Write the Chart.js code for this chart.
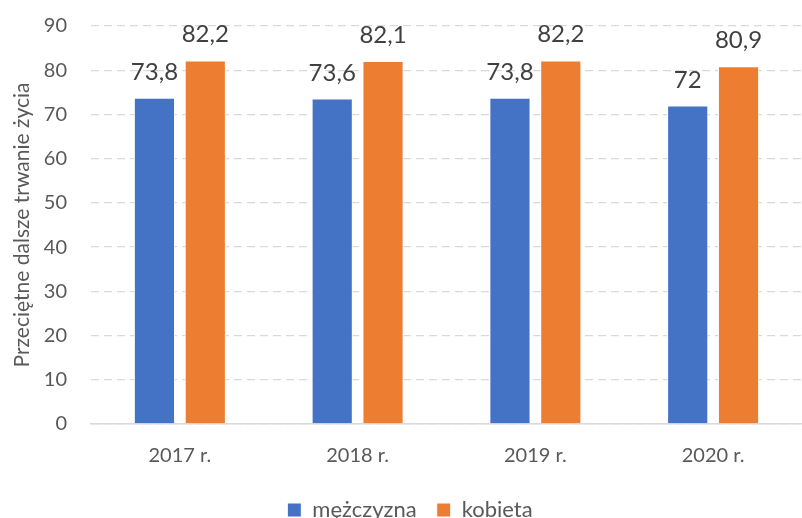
<!DOCTYPE html>
<html>
<head>
<meta charset="utf-8">
<script src="https://cdn.jsdelivr.net/npm/chart.js@4/dist/chart.umd.min.js"></script>
<style>
  html, body { margin: 0; padding: 0; background: #fff; overflow: hidden; }
  #wrap { width: 802px; height: 518px; position: relative; overflow: hidden; }
  #inner { position: absolute; left: 0; top: -10px; width: 802px; height: 541px; }
</style>
</head>
<body>
<div id="wrap"><div id="inner"><canvas id="chart"></canvas></div></div>
<script>
const years = ['2017 r.', '2018 r.', '2019 r.', '2020 r.'];
const men = [73.8, 73.6, 73.8, 72];
const women = [82.2, 82.1, 82.2, 80.9];
const yTicks = [0, 10, 20, 30, 40, 50, 60, 70, 80, 90];

const FONT = 'Lato, "Open Sans", sans-serif';

const valueLabels = {
  id: 'valueLabels',
  afterDatasetsDraw(chart) {
    const ctx = chart.ctx;
    ctx.save();
    ctx.font = '24px ' + FONT;
    ctx.fillStyle = '#404040';
    ctx.textAlign = 'center';
    ctx.textBaseline = 'alphabetic';
    chart.data.datasets.forEach((ds, i) => {
      const meta = chart.getDatasetMeta(i);
      meta.data.forEach((bar, j) => {
        const txt = String(ds.data[j]).replace('.', ',');
        ctx.fillText(txt, bar.x, bar.y - 18);
      });
    });
    ctx.restore();
  },
};

new Chart(document.getElementById('chart'), {
  type: 'bar',
  data: {
    labels: years,
    datasets: [
      {
        label: 'mężczyzna',
        data: men,
        backgroundColor: '#4472c4',
        borderColor: '#ffffff',
        borderWidth: 1,
        barPercentage: 0.81,
        categoryPercentage: 0.572,
      },
      {
        label: 'kobieta',
        data: women,
        backgroundColor: '#ed7d31',
        borderColor: '#ffffff',
        borderWidth: 1,
        barPercentage: 0.81,
        categoryPercentage: 0.572,
      },
    ],
  },
  options: {
    responsive: true,
    maintainAspectRatio: false,
    animation: false,
    layout: { padding: { top: 0, right: -8, left: 10, bottom: 0 } },
    scales: {
      x: {
        grid: { display: false },
        border: { display: true, color: '#d9d9d9', width: 1.5 },
        ticks: { color: '#595959', font: { family: FONT, size: 20 }, padding: 12 },
        afterFit: (axis) => { axis.height = 55; },
      },
      y: {
        min: 0,
        max: 90,
        afterBuildTicks: (axis) => { axis.ticks = yTicks.map((v) => ({ value: v })); },
        afterFit: (axis) => { axis.width = 81; },
        grid: { color: '#d9d9d9', lineWidth: 1.3, drawTicks: false },
        border: { display: false, dash: [8, 5] },
        ticks: { color: '#595959', font: { family: FONT, size: 20 }, padding: 24 },
        title: {
          display: true,
          text: 'Przeciętne dalsze trwanie życia',
          color: '#595959',
          font: { family: FONT, size: 21 },
          padding: { top: 0, bottom: 0 },
        },
      },
    },
    plugins: {
      legend: {
        position: 'bottom',
        labels: {
          color: '#595959',
          font: { family: FONT, size: 22 },
          boxWidth: 14,
          boxHeight: 14,
          padding: 20,
        },
      },
      tooltip: { enabled: false },
    },
  },
  plugins: [valueLabels],
});
</script>
</body>
</html>
